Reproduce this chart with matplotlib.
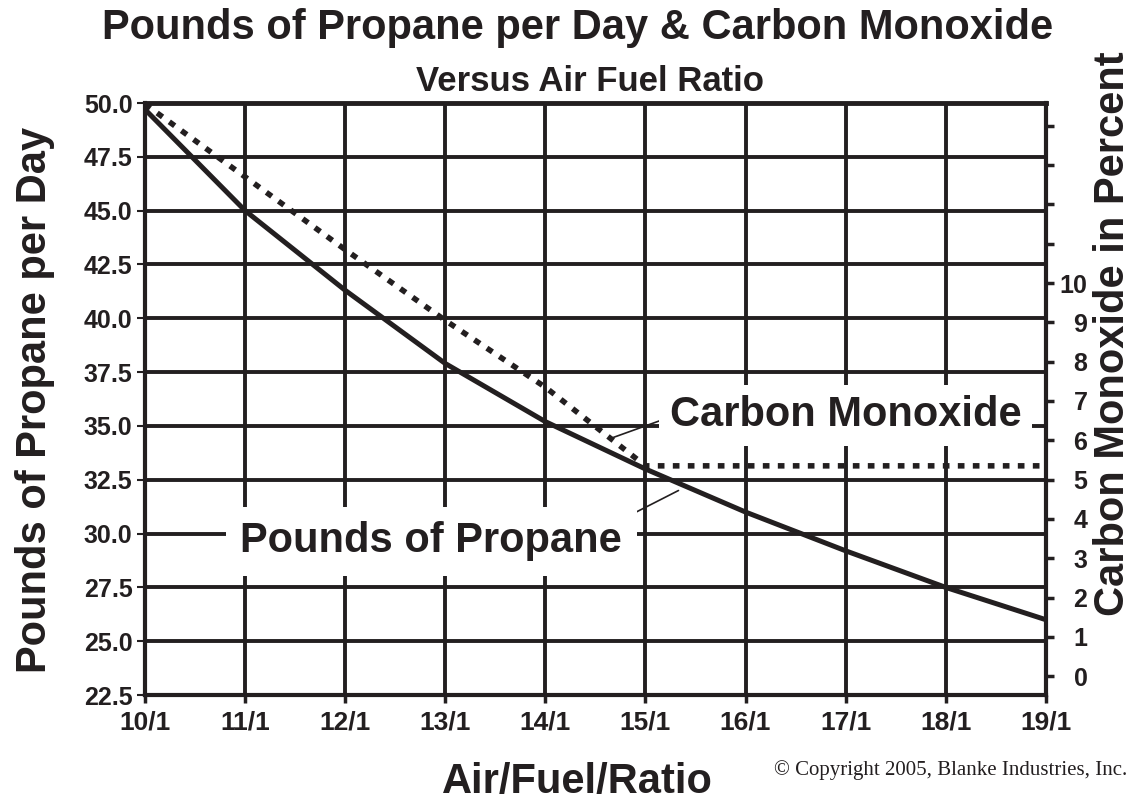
import matplotlib.pyplot as plt

plt.rcParams['font.family'] = ['Liberation Sans', 'DejaVu Sans']
plt.rcParams['font.weight'] = 'bold'

ink = '#231f20'

# air/fuel ratios on the x axis
ratios = [10, 11, 12, 13, 14, 15, 16, 17, 18, 19]
ratio_labels = ['10/1', '11/1', '12/1', '13/1', '14/1', '15/1', '16/1', '17/1', '18/1', '19/1']

# pounds of propane per day (left axis)
propane = [49.7, 45.0, 41.3, 37.9, 35.2, 33.0, 31.0, 29.2, 27.5, 26.0]

# carbon monoxide percent (right axis)
co_ratios = [10, 11, 12, 13, 14, 15, 19]
co_pct = [14.55, 12.7, 10.85, 9.05, 7.35, 5.35, 5.35]

left_ticks = [22.5, 25.0, 27.5, 30.0, 32.5, 35.0, 37.5, 40.0, 42.5, 45.0, 47.5, 50.0]
right_ticks = list(range(0, 15))
right_labels = [str(v) if v <= 10 else '' for v in right_ticks]

fig = plt.figure(figsize=(11.33, 8.01), dpi=100)
ax = fig.add_axes([0.128, 0.1323, 0.795, 0.7391])

ax.set_xlim(10, 19)
ax.set_ylim(22.5, 50)
ax.set_xticks(ratios)
ax.set_xticklabels(ratio_labels)
ax.set_yticks(left_ticks)
ax.set_yticklabels(['%.1f' % v for v in left_ticks])
ax.grid(True, color=ink, lw=2.8, zorder=1)
ax.set_axisbelow(True)

for side in ['left', 'right', 'top', 'bottom']:
    ax.spines[side].set_color(ink)
    ax.spines[side].set_linewidth(3)
ax.spines['top'].set_linewidth(3.5)

ax.tick_params(axis='y', length=6, width=1.5, color=ink, pad=3,
               labelsize=18, labelcolor=ink)
ax.tick_params(axis='x', length=6, width=2.5, color=ink, pad=5,
               labelsize=19, labelcolor=ink)

ax.plot(ratios, propane, color=ink, lw=3.6, zorder=3, solid_capstyle='butt')

ax2 = ax.twinx()
ax2.set_ylim(-0.48, 14.58)
ax2.set_yticks(right_ticks)
ax2.set_yticklabels(right_labels)
for lbl in ax2.get_yticklabels():
    lbl.set_horizontalalignment('right')
ax2.tick_params(axis='y', length=6, width=2.5, color=ink, pad=24,
                labelsize=18, labelcolor=ink)
for side in ['left', 'right', 'top', 'bottom']:
    ax2.spines[side].set_visible(False)
ax2.plot(co_ratios, co_pct, color=ink, lw=4, linestyle=(0, (1.2, 1.5)), zorder=3)

# callouts
ax.annotate('Carbon Monoxide', xy=(14.67, 34.45), xytext=(17.0, 35.5),
            ha='center', va='center', fontsize=30, color=ink, zorder=5,
            bbox=dict(boxstyle='square,pad=0.25', fc='white', ec='none'),
            arrowprops=dict(arrowstyle='-', lw=1.2, color=ink, relpos=(0, 0.45),
                            shrinkA=0, shrinkB=0))
ax.annotate('Pounds of Propane', xy=(15.33, 32.0), xytext=(12.86, 29.65),
            ha='center', va='center', fontsize=30, color=ink, zorder=5,
            bbox=dict(boxstyle='square,pad=0.35', fc='white', ec='none'),
            arrowprops=dict(arrowstyle='-', lw=1.2, color=ink, relpos=(0.98, 0.95),
                            shrinkA=0, shrinkB=0))

fig.text(0.51, 0.965, 'Pounds of Propane per Day & Carbon Monoxide',
         ha='center', va='center', fontsize=30, color=ink)
fig.text(0.521, 0.898, 'Versus Air Fuel Ratio',
         ha='center', va='center', fontsize=25, color=ink)
fig.text(0.51, 0.024, 'Air/Fuel/Ratio',
         ha='center', va='center', fontsize=30, color=ink)
fig.text(0.031, 0.5006, 'Pounds of Propane per Day', rotation=90,
         ha='center', va='center', fontsize=30, color=ink)
fig.text(0.982, 0.584, 'Carbon Monoxide in Percent', rotation=90,
         ha='center', va='center', fontsize=30, color=ink)
fig.text(0.995, 0.039, '\u00a9 Copyright 2005, Blanke Industries, Inc.',
         ha='right', va='center', fontsize=15, color=ink,
         family='Liberation Serif', weight='normal')

fig.savefig('out.png', dpi=100)
